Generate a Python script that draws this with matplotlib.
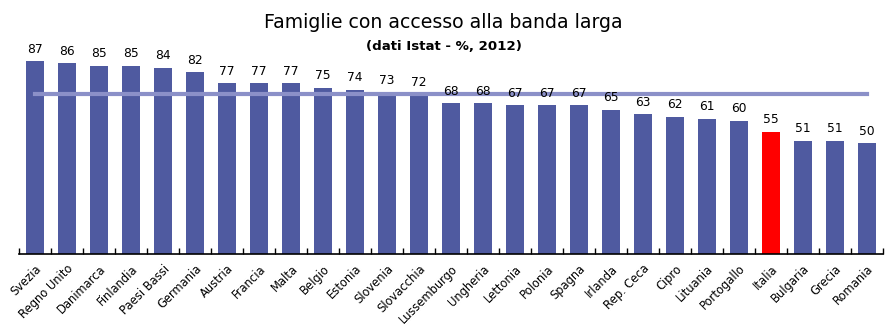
import matplotlib
matplotlib.use("Agg")
import matplotlib.pyplot as plt
import numpy as np

paesi = ["Svezia", "Regno Unito", "Danimarca", "Finlandia", "Paesi Bassi", "Germania",
         "Austria", "Francia", "Malta", "Belgio", "Estonia", "Slovenia", "Slovacchia",
         "Lussemburgo", "Ungheria", "Lettonia", "Polonia", "Spagna", "Irlanda", "Rep. Ceca",
         "Cipro", "Lituania", "Portogallo", "Italia", "Bulgaria", "Grecia", "Romania"]
valori = [87, 86, 85, 85, 84, 82, 77, 77, 77, 75, 74, 73, 72, 68, 68, 67, 67, 67,
          65, 63, 62, 61, 60, 55, 51, 51, 50]
media_ue = 72

plt.rcParams['font.family'] = ['DejaVu Sans']

fig = plt.figure(figsize=(8.87, 3.36), dpi=100)
ax = fig.add_axes([0.0214, 0.244, 0.9741, 0.66])

x = np.arange(len(paesi))
colori = ['#ff0000' if p == "Italia" else '#4f5aa0' for p in paesi]
ax.bar(x, valori, width=0.56, color=colori, zorder=2)
ax.plot([x[0], x[-1]], [media_ue, media_ue], color='#8b90c8', lw=3, zorder=3)

for xi, v in zip(x, valori):
    ax.annotate(str(v), (xi, v), xytext=(0, 4), textcoords='offset points',
                ha='center', va='bottom', fontsize=8.8)

ax.set_xlim(-0.5, len(paesi) - 0.5)
ax.set_ylim(0, 100)
ax.set_xticks(x)
ax.set_xticklabels(paesi, rotation=45, ha='right', rotation_mode='anchor', fontsize=8.3)
ax.tick_params(axis='x', which='major', length=0, pad=6)
ax.set_xticks(np.arange(-0.5, len(paesi)), minor=True)
ax.tick_params(axis='x', which='minor', direction='in', length=4, width=1)
ax.set_yticks([])
for s in ['left', 'right', 'top']:
    ax.spines[s].set_visible(False)
ax.spines['bottom'].set_linewidth(1.2)

fig.text(0.5, 0.932, "Famiglie con accesso alla banda larga", ha='center', va='center', fontsize=13.6)
fig.text(0.5, 0.863, "(dati Istat - %, 2012)", ha='center', va='center', fontsize=9.6, fontweight='bold')

fig.savefig("out.png", dpi=100)
